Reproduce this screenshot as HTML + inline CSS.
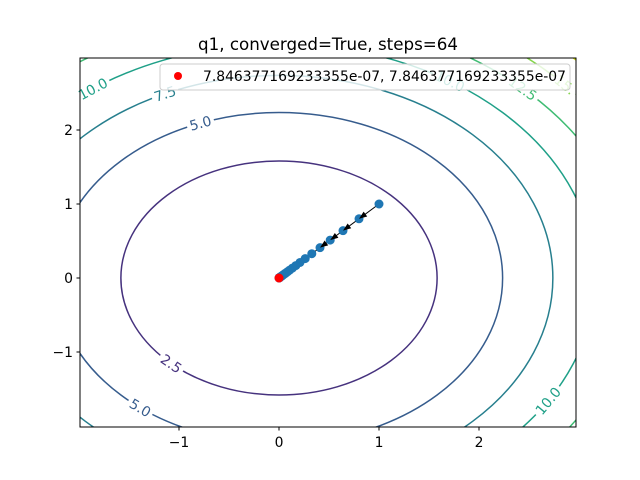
<!DOCTYPE html>
<html><head><meta charset="utf-8"><style>
html,body{margin:0;background:#fff;width:640px;height:480px;overflow:hidden}
svg{font-family:"DejaVu Sans","Liberation Sans",sans-serif;display:block}
</style></head><body>
<svg id="chart" width="640" height="480" viewBox="0 0 640 480">
<defs><clipPath id="clip"><rect x="80" y="58" width="496" height="369"/></clipPath></defs>
<rect x="0" y="0" width="640" height="480" fill="#fff"/>
<text x="328" y="50" font-size="16.7" text-anchor="middle">q1, converged=True, steps=64</text>
<g id="contours" clip-path="url(#clip)"></g>
<g id="labels"></g>
<g id="path" clip-path="url(#clip)"></g>
<rect x="80" y="58" width="496" height="369" fill="none" stroke="#000" stroke-width="1"/>
<g id="xticks"></g>
<g id="yticks"></g>
<g>
<rect x="160" y="64" width="410" height="26" rx="3" fill="#fff" fill-opacity="0.8" stroke="#ccc"/>
<circle cx="178" cy="76" r="4" fill="red"/>
<text x="203" y="81" font-size="13.9">7.846377169233355e-07, 7.846377169233355e-07</text>
</g>
</svg>
<script>
const levels=[2.5,5,7.5,10,12.5,15,17.5];
const levelColors=["#46327e","#365c8d","#277f8e","#1fa088","#3fbc73","#84d44b","#d8e219"];
const xTicks=[-1,0,1,2];
const yTicks=[-1,0,1,2];
const pathX=[1,0.8,0.64,0.512,0.41,0.328,0.262,0.21,0.168,0.134,0.107,0.086,0.069,0.055,0.044,0.035,0.028,0.023,0.018,0.014,0.011,0.009,0.007,0.006,0.005,0.004,0.003,0.002,0.001,0.0008];
const pathY=[1,0.8,0.64,0.512,0.41,0.328,0.262,0.21,0.168,0.134,0.107,0.086,0.069,0.055,0.044,0.035,0.028,0.023,0.018,0.014,0.011,0.009,0.007,0.006,0.005,0.004,0.003,0.002,0.001,0.0008];
const finalPt=[7.846e-7,7.846e-7];
const labelTexts=["10.0","7.5","5.0","2.5","5.0","10.0","10.0","12.5","15."];
const labelLevels=[10,7.5,5,2.5,5,10,10,12.5,15];
const labelAngles=[2.2,2.0,1.93,-2.32,-2.24,-0.553,1.0,0.81,0.74];
const NS="http://www.w3.org/2000/svg";
const sx=v=>279+100*v, sy=v=>278-74*v;
function mk(t,a,p){const e=document.createElementNS(NS,t);for(const k in a)e.setAttribute(k,a[k]);p.appendChild(e);return e;}
const cg=document.getElementById('contours');
levels.forEach((L,i)=>{const r=Math.sqrt(L);
 const e=mk('ellipse',{cx:sx(0),cy:sy(0),rx:100*r,ry:74*r,fill:'none',stroke:levelColors[i],'stroke-width':1.5},cg);
 
 });
const lg=document.getElementById('labels');
labelTexts.forEach((t,i)=>{const L=labelLevels[i],r=Math.sqrt(L),a=labelAngles[i];
 const x=sx(r*Math.cos(a)),y=sy(r*Math.sin(a));
 const dx=-100*r*Math.sin(a),dy=-74*r*Math.cos(a);
 let ang=Math.atan2(dy,dx)*180/Math.PI; if(ang>90)ang-=180; if(ang<-90)ang+=180;
 if(x<80||x>576||y<58||y>427)return;
 const g=mk('g',{transform:`translate(${x},${y}) rotate(${ang})`},lg);
 
 
 mk('rect',{x:-t.length*4.6,y:-7,width:t.length*9.2,height:14,fill:'#fff'},g);
 const c=levelColors[levels.indexOf(L)];
 const tx=mk('text',{x:0,y:5,'font-size':13.9,'text-anchor':'middle',fill:c},g);tx.textContent=t;});
const pg=document.getElementById('path');
for(let i=0;i<pathX.length-1;i++){
 const l=mk('line',{x1:sx(pathX[i]),y1:sy(pathY[i]),x2:sx(pathX[i+1]),y2:sy(pathY[i+1]),stroke:'#000','stroke-width':1},pg);
 
 }
pathX.forEach((v,i)=>{const c=mk('circle',{cx:sx(v),cy:sy(pathY[i]),r:4.5,fill:'#1f77b4'},pg);
 
 });
for(let i=0;i<4;i++){const x1=sx(pathX[i]),y1=sy(pathY[i]),x2=sx(pathX[i+1]),y2=sy(pathY[i+1]);
 const ang=Math.atan2(y2-y1,x2-x1);const hx=x2+4*Math.cos(ang+Math.PI),hy=y2+4*Math.sin(ang+Math.PI);
 const p=mk('polygon',{points:`${x2},${y2} ${hx+3*Math.cos(ang+Math.PI/2)-4*Math.cos(ang)},${hy+3*Math.sin(ang+Math.PI/2)-4*Math.sin(ang)} ${hx-3*Math.cos(ang+Math.PI/2)-4*Math.cos(ang)},${hy-3*Math.sin(ang+Math.PI/2)-4*Math.sin(ang)}`,fill:'#000'},pg);
 
 }
const fp=mk('circle',{cx:sx(finalPt[0]),cy:sy(finalPt[1]),r:4.5,fill:'red'},pg);


const xg=document.getElementById('xticks');
xTicks.forEach(v=>{mk('line',{x1:sx(v),x2:sx(v),y1:427,y2:430.5,stroke:'#000'},xg);
 const t=mk('text',{x:sx(v),y:447,'font-size':13.9,'text-anchor':'middle'},xg);t.textContent=v<0?'\u2212'+(-v):v;
 
 });
const yg=document.getElementById('yticks');
yTicks.forEach(v=>{mk('line',{x1:76.5,x2:80,y1:sy(v),y2:sy(v),stroke:'#000'},yg);
 const t=mk('text',{x:73,y:sy(v)+5,'font-size':13.9,'text-anchor':'end'},yg);t.textContent=v<0?'\u2212'+(-v):v;
 
 });
</script>
</body></html>
